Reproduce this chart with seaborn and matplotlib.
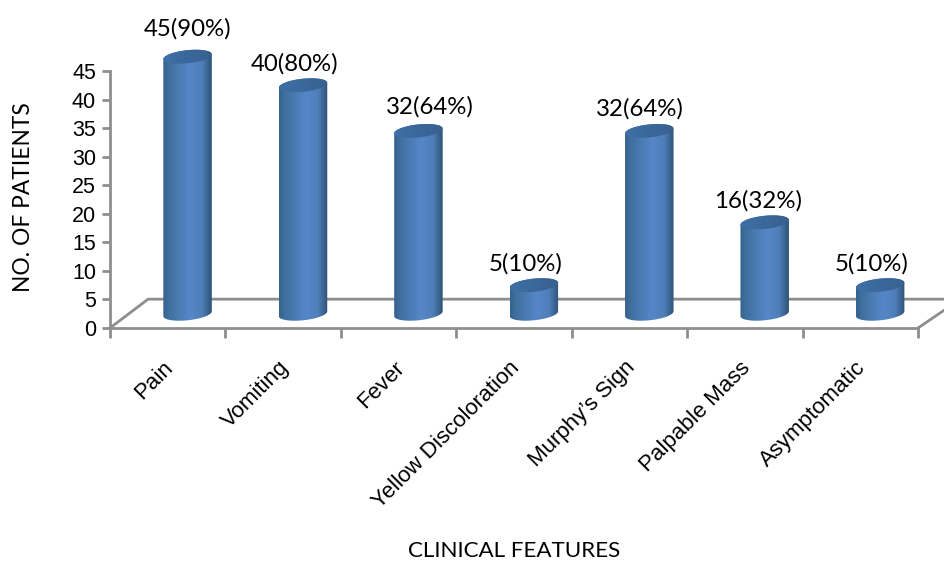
# setup

import numpy as np
import pandas as pd
import matplotlib
matplotlib.use('Agg')
import matplotlib.pyplot as plt
import matplotlib.transforms as mtrans
from matplotlib.colors import LinearSegmentedColormap
from matplotlib.path import Path
from matplotlib.patches import PathPatch
import seaborn as sns

# chart data

features = ['Pain', 'Vomiting', 'Fever', 'Yellow Discoloration', 'Murphy\u2019s Sign', 'Palpable Mass', 'Asymptomatic']
patients = [45, 40, 32, 5, 32, 16, 5]
percents = [90, 80, 64, 10, 64, 32, 10]
y_ticks = [0, 5, 10, 15, 20, 25, 30, 35, 40, 45]

# look of the fake 3d cylinders (px and data units)
label_dx = [0, -8, 11, -8, -9, -7, -9]
label_dy = [28, 21, 24, 21, 22, 22, 21]
bar_shift = 0.172
bar_base = 2.5
rad_y = 1.15
tilt = 0.42
floor_y = 5.05
floor_dx = 0.33
grey = '#8e8e8e'

sns.set_theme(style='white')
plt.rcParams['font.family'] = ['Liberation Sans', 'DejaVu Sans']

df = pd.DataFrame({'feature': features, 'patients': patients})

fig = plt.figure(figsize=(9.45, 5.61), dpi=100)
ax = fig.add_axes([110 / 945, (561 - 328) / 561, 808 / 945, 257 / 561])

sns.barplot(data=df, x='feature', y='patients', color='#4f81bd', width=0.42, ax=ax, zorder=3)

ax.set_xlim(-0.5, 6.5)
ax.set_ylim(0, 45)
ax.set_autoscale_on(False)

side_cmap = LinearSegmentedColormap.from_list('side', [(0, '#37628f'), (0.12, '#40709f'), (0.55, '#5587c8'), (0.8, '#4f7fba'), (1, '#2f5377')])
cap_cmap = LinearSegmentedColormap.from_list('cap', ['#3e6fa6', '#38618f'])

t = np.linspace(0, np.pi, 40)
for bar in ax.patches:
    bar.set_x(bar.get_x() + bar_shift)
    bar.set_y(bar_base)
    bar.set_visible(False)
    x0 = bar.get_x()
    w = bar.get_width()
    cx = x0 + w / 2
    y_top = bar_base + bar.get_height()

    # outline: lower half of the base ellipse, upper half of the top ellipse
    low_x = cx - w / 2 * np.cos(t)
    low_y = bar_base - rad_y * np.sin(t) + tilt * (low_x - cx) / (w / 2)
    up_x = cx + w / 2 * np.cos(t)
    up_y = y_top + rad_y * np.sin(t) + tilt * (up_x - cx) / (w / 2)
    outline = Path(np.column_stack([np.r_[low_x, up_x], np.r_[low_y, up_y]]))
    im = ax.imshow(np.linspace(0, 1, 64).reshape(1, -1), cmap=side_cmap, extent=(x0, x0 + w, 0, 52),
                   aspect='auto', zorder=3, interpolation='bilinear')
    im.set_clip_path(PathPatch(outline, transform=ax.transData))
    im.set_clip_box(fig.bbox)

    # top cap
    cap_x = cx + w / 2 * np.cos(2 * t)
    cap_y = y_top + rad_y * np.sin(2 * t) + tilt * (cap_x - cx) / (w / 2)
    cap = Path(np.column_stack([cap_x, cap_y]))
    im = ax.imshow(np.linspace(0, 1, 32).reshape(1, -1), cmap=cap_cmap, extent=(x0, x0 + w, 0, 52),
                   aspect='auto', zorder=4, interpolation='bilinear')
    im.set_clip_path(PathPatch(cap, transform=ax.transData))
    im.set_clip_box(fig.bbox)

ax.set_xlim(-0.5, 6.5)
ax.set_ylim(0, 45)

# data labels
for bar, n, pct, dx, dy in zip(ax.patches, patients, percents, label_dx, label_dy):
    ax.annotate(f'{n}({pct}%)', (bar.get_x() + bar.get_width() / 2, bar_base + n),
                xytext=(dx * 0.72, dy * 0.72), textcoords='offset points', ha='center', va='center',
                fontsize=17.3, family='Lato', color='black', annotation_clip=False, zorder=6)

# floor of the 3d box
ax.plot([-0.5, -0.5 + floor_dx, 6.74], [0, floor_y, floor_y], color=grey, lw=2, clip_on=False, zorder=1)
ax.plot([6.5, 6.74], [0, 3.3], color=grey, lw=2, clip_on=False, zorder=1)

# axes
sns.despine(ax=ax)
for side in ['left', 'bottom']:
    ax.spines[side].set_color(grey)
    ax.spines[side].set_linewidth(2)

ax.set_yticks(y_ticks)
ax.tick_params(axis='y', which='major', left=True, length=6, width=2, color=grey, labelsize=15.5, pad=4, labelcolor='black')

ax.set_xticks(np.arange(-0.5, 7, 1), minor=True)
ax.tick_params(axis='x', which='minor', bottom=True, length=7, width=2, color=grey)
ax.set_xticks(range(len(features)), features, rotation=45, ha='right', rotation_mode='anchor')
ax.tick_params(axis='x', which='major', bottom=False, labelsize=16, pad=15, labelcolor='black')
shift = mtrans.ScaledTranslation(-5 / 100, 0, fig.dpi_scale_trans)
for lab in ax.get_xticklabels():
    lab.set_transform(lab.get_transform() + shift)

ax.set_xlabel('')
ax.set_ylabel('')
fig.text(514 / 945, 1 - 551 / 561, 'CLINICAL FEATURES', ha='center', va='center', fontsize=16.1, family='Lato', color='black')
fig.text(24 / 945, 1 - 197 / 561, 'NO. OF PATIENTS', ha='center', va='center', rotation=90, fontsize=16.4, family='Lato', color='black')

fig.savefig('out.png', dpi=100)
